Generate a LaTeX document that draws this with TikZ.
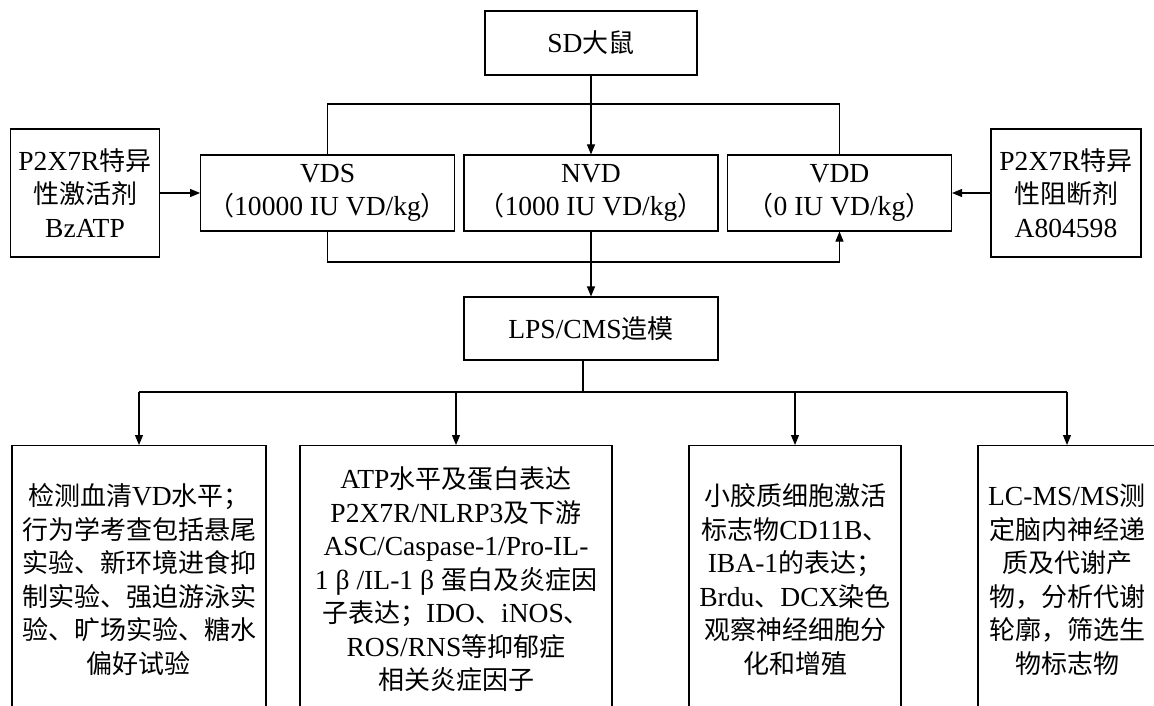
\documentclass[tikz,border=0pt]{standalone}
\usepackage{fontspec}
\setmainfont{Liberation Serif}[Scale=1.06]
\newfontfamily\cjkfont{Noto Sans CJK SC}
\newfontfamily\latfont{Liberation Serif}[Scale=1.06]
\usetikzlibrary{arrows.meta}
\XeTeXinterchartokenstate=1
\newXeTeXintercharclass\CJKcls
\makeatletter
\count@="3000
\loop \XeTeXcharclass\count@=\CJKcls \advance\count@ by 1 \ifnum\count@<"3040 \repeat
\count@="4E00
\loop \XeTeXcharclass\count@=\CJKcls \advance\count@ by 1 \ifnum\count@<"A000 \repeat
\count@="FF00
\loop \XeTeXcharclass\count@=\CJKcls \advance\count@ by 1 \ifnum\count@<"FFF0 \repeat
\makeatother
\XeTeXinterchartoks 0 \CJKcls = {\cjkfont}
\XeTeXinterchartoks 4095 \CJKcls = {\cjkfont}
\XeTeXinterchartoks \CJKcls 0 = {\latfont}
\XeTeXinterchartoks \CJKcls 4095 = {\latfont}
\tikzset{
  box/.style={draw=black, line width=1.1pt, inner sep=0pt, align=center,
    font=\fontsize{26}{33.5}\selectfont},
  lowbox/.style={box, anchor=north, minimum height=268pt},
  arr/.style={line width=1.1pt, -{Triangle[length=10pt,width=8pt]}},
  ln/.style={line width=1.1pt}
}
\begin{document}
\begin{tikzpicture}[x=1pt,y=-1pt]
\useasboundingbox (0,0) rectangle (1154,706);
\clip (0,0) rectangle (1154,706);
\fill[white] (0,0) rectangle (1154,706);
% top
\node[box, minimum width=212pt, minimum height=64pt] (sd) at (591,43) {SD大鼠};
\node[box, minimum width=254pt, minimum height=76pt] (vds) at (327.6,193) {VDS\\（10000 IU VD/kg）};
\node[box, minimum width=254pt, minimum height=76pt] (nvd) at (591,193) {NVD\\（1000 IU VD/kg）};
\node[box, minimum width=224pt, minimum height=76pt] (vdd) at (839.5,193) {VDD\\（0 IU VD/kg）};
\node[box, minimum width=149pt, minimum height=128pt] (act) at (85,193) {P2X7R特异\\性激活剂\\BzATP};
\node[box, minimum width=150pt, minimum height=128pt] (blk) at (1066,193) {P2X7R特异\\性阻断剂\\A804598};
\node[box, minimum width=254pt, minimum height=63pt] (lps) at (591,328.5) {LPS/CMS造模};
% bottom
\node[lowbox, minimum width=254pt] (b1) at (139,445) {检测血清VD水平；\\行为学考查包括悬尾\\实验、新环境进食抑\\制实验、强迫游泳实\\验、旷场实验、糖水\\偏好试验};
\node[lowbox, minimum width=312pt] (b2) at (456,445) {ATP水平及蛋白表达\\P2X7R/NLRP3及下游\\ASC/Caspase-1/Pro-IL-\\1 β /IL-1 β 蛋白及炎症因\\子表达；IDO、iNOS、\\ROS/RNS等抑郁症\\相关炎症因子};
\node[lowbox, minimum width=212pt] (b3) at (795,445) {小胶质细胞激活\\标志物CD11B、\\IBA-1的表达；\\Brdu、DCX染色\\观察神经细胞分\\化和增殖};
\node[lowbox, minimum width=178pt] (b4) at (1067,445) {LC-MS/MS测\\定脑内神经递\\质及代谢产\\物，分析代谢\\轮廓，筛选生\\物标志物};
% helper coordinates
\coordinate (topbar) at (0,104);
\coordinate (lowbar) at (0,262);
\coordinate (busbar) at (0,392);
\coordinate (lo) at ([xshift=-8pt]lps.south);
% connectors
\draw[ln] (vds.north) -- (vds.north |- topbar) -- (vdd.north |- topbar) -- (vdd.north);
\draw[arr] (sd.south) -- (nvd.north);
\draw[arr] (act.east) -- (vds.west);
\draw[arr] (blk.west) -- (vdd.east);
\draw[arr] (vds.south) -- (vds.south |- lowbar) -- (vdd.south |- lowbar) -- (vdd.south);
\draw[arr] (nvd.south) -- (lps.north);
\draw[ln] (lo) -- (lo |- busbar);
\draw[ln] (b1.north |- busbar) -- (b4.north |- busbar);
\draw[arr] (b1.north |- busbar) -- (b1.north);
\draw[arr] (b2.north |- busbar) -- (b2.north);
\draw[arr] (b3.north |- busbar) -- (b3.north);
\draw[arr] (b4.north |- busbar) -- (b4.north);
\end{tikzpicture}
\end{document}
